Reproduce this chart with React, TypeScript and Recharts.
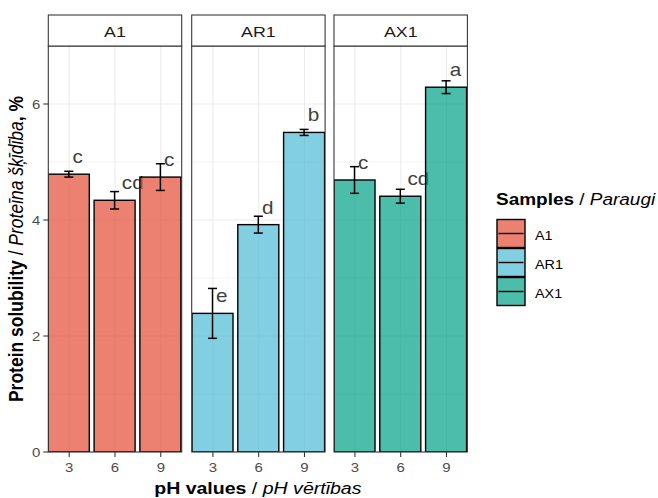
import React from 'react';
import { BarChart, Bar, XAxis, YAxis, CartesianGrid, ErrorBar } from 'recharts';

const samples = ['A1', 'AR1', 'AX1'];
const phValues = [3, 6, 9];
const yTicks = [0, 2, 4, 6];

const a1Means = [4.79, 4.34, 4.74];
const a1Errors = [0.05, 0.15, 0.23];
const a1Letters = ['c', 'cd', 'c'];

const ar1Means = [2.39, 3.92, 5.51];
const ar1Errors = [0.43, 0.145, 0.052];
const ar1Letters = ['e', 'd', 'b'];

const ax1Means = [4.69, 4.41, 6.29];
const ax1Errors = [0.23, 0.12, 0.11];
const ax1Letters = ['c', 'cd', 'a'];

const sampleColors = ['#E64B35', '#4DBBD5', '#00A087'];

const FONT = '"Liberation Sans", Arial, Helvetica, sans-serif';
const SX = 1.15; // horizontal glyph stretch seen in the reference

const seriesMeans = [a1Means, ar1Means, ax1Means];
const seriesErrors = [a1Errors, ar1Errors, ax1Errors];
const seriesLetters = [a1Letters, ar1Letters, ax1Letters];

const buildData = (i: number) =>
  phValues.map((ph, j) => ({
    ph,
    mean: seriesMeans[i][j],
    err: seriesErrors[i][j],
    letter: seriesLetters[i][j],
  }));

// layout
const PANEL_TOP = 46;
const PANEL_H = 406;
const PANEL_W = 133.4;
const Y_AXIS_W = 48.3;
const panelLefts = [48.3, 191.7, 334];
const STRIP_TOP = 15;
const STRIP_H = 31;

const SText = ({ x, y, anchor, size, fill, dy, children, weight, style }: any) => (
  <text
    transform={`translate(${x},${y}) scale(${SX},1)`}
    textAnchor={anchor || 'start'}
    fontSize={size}
    fill={fill || '#000'}
    fontFamily={FONT}
    dy={dy}
    fontWeight={weight}
    fontStyle={style}
  >
    {children}
  </text>
);

const makeShape = (color: string) => (props: any) => {
  const { x, y, width, height, payload } = props;
  const label: string = payload.letter;
  const cx = x + width / 2;
  const dx = 0.4 * label.length * 9;
  return (
    <g>
      <SText x={cx + dx} y={y - 11} size={18} fill="#404040">
        {label}
      </SText>
      <rect
        x={x}
        y={y}
        width={width}
        height={height}
        fill={color}
        fillOpacity={0.7}
        stroke="#000"
        strokeWidth={1.4}
      />
    </g>
  );
};

const XTick = (props: any) => {
  const { x, y, payload } = props;
  return (
    <SText x={x} y={y} anchor="middle" size={13} fill="#4D4D4D" dy="0.71em">
      {payload.value}
    </SText>
  );
};

const YTick = (props: any) => {
  const { x, y, payload } = props;
  return (
    <SText x={x} y={y} anchor="end" size={13} fill="#4D4D4D" dy="0.355em">
      {payload.value}
    </SText>
  );
};

const Panel = ({ index }: { index: number }) => {
  const first = index === 0;
  const width = first ? Y_AXIS_W + PANEL_W : PANEL_W;
  const left = first ? 0 : panelLefts[index];
  return (
    <div style={{ position: 'absolute', left, top: PANEL_TOP }}>
      <BarChart
        width={width}
        height={PANEL_H + 40}
        data={buildData(index)}
        margin={{ top: 0, right: 0, bottom: 0, left: 0 }}
      >
        <CartesianGrid
          horizontalValues={[1, 3, 5]}
          vertical={false}
          stroke="#EBEBEB"
          strokeWidth={0.6}
        />
        <CartesianGrid
          horizontalValues={[0, 2, 4, 6]}
          verticalValues={phValues}
          stroke="#EBEBEB"
          strokeWidth={1.1}
        />
        <XAxis
          dataKey="ph"
          type="number"
          domain={[1.63, 10.37]}
          ticks={phValues}
          interval={0}
          allowDataOverflow
          height={40}
          axisLine={false}
          tickLine={{ stroke: '#333333', strokeWidth: 1.07 }}
          tickSize={5}
          tickMargin={6}
          tick={XTick}
        />
        <YAxis
          type="number"
          domain={[0, 7]}
          ticks={yTicks}
          allowDataOverflow
          hide={!first}
          width={Y_AXIS_W}
          axisLine={false}
          tickLine={{ stroke: '#333333', strokeWidth: 1.07 }}
          tickSize={5}
          tickMargin={3}
          tick={YTick}
        />
        <Bar
          dataKey="mean"
          barSize={41}
          isAnimationActive={false}
          shape={makeShape(sampleColors[index])}
        >
          <ErrorBar dataKey="err" width={4.5} stroke="#000" strokeWidth={1.5} direction="y" />
        </Bar>
      </BarChart>
    </div>
  );
};

export default function App() {
  return (
    <div
      style={{
        position: 'fixed',
        left: 0,
        top: 0,
        width: 658,
        height: 498,
        background: '#fff',
        fontFamily: FONT,
        overflow: 'hidden',
      }}
    >
      {samples.map((s, i) => (
        <Panel key={s} index={i} />
      ))}
      <svg
        width={658}
        height={498}
        style={{ position: 'absolute', left: 0, top: 0, pointerEvents: 'none' }}
        fontFamily={FONT}
      >
        {samples.map((s, i) => (
          <g key={s}>
            <rect
              x={panelLefts[i]}
              y={PANEL_TOP}
              width={PANEL_W}
              height={PANEL_H}
              fill="none"
              stroke="#333333"
              strokeWidth={1.07}
            />
            <rect
              x={panelLefts[i]}
              y={STRIP_TOP}
              width={PANEL_W}
              height={STRIP_H}
              fill="#fff"
              stroke="#333333"
              strokeWidth={1.07}
            />
            <SText
              x={panelLefts[i] + PANEL_W / 2}
              y={STRIP_TOP + 22}
              anchor="middle"
              size={15.5}
              fill="#1A1A1A"
            >
              {s}
            </SText>
          </g>
        ))}
        {/* Y axis title */}
        <text
          transform={`translate(22.5, ${PANEL_TOP + PANEL_H / 2}) rotate(-90) scale(1, ${SX})`}
          textAnchor="middle"
          fontSize={17.5}
          fill="#000"
        >
          <tspan fontWeight="bold">Protein solubility</tspan>
          <tspan> / </tspan>
          <tspan fontStyle="italic">Proteīna šķīdība</tspan>
          <tspan fontWeight="bold">, %</tspan>
        </text>
        {/* X axis title */}
        <SText
          x={(panelLefts[0] + panelLefts[2] + PANEL_W) / 2}
          y={494}
          anchor="middle"
          size={17}
        >
          <tspan fontWeight="bold">pH values</tspan>
          <tspan> / </tspan>
          <tspan fontStyle="italic">pH vērtības</tspan>
        </SText>
        {/* Legend */}
        <SText x={496} y={204.5} size={16.5}>
          <tspan fontWeight="bold">Samples</tspan>
          <tspan> / </tspan>
          <tspan fontStyle="italic">Paraugi</tspan>
        </SText>
        {samples.map((s, i) => {
          const ky = 219.5 + i * 29;
          return (
            <g key={'lg' + s}>
              <rect x={497} y={ky} width={28} height={28} fill="#fff" />
              <rect
                x={497}
                y={ky}
                width={28}
                height={28}
                fill={sampleColors[i]}
                fillOpacity={0.7}
                stroke="#000"
                strokeWidth={1.4}
              />
              <line x1={498.5} x2={523.5} y1={ky + 14} y2={ky + 14} stroke="#000" strokeWidth={1.4} />
              <SText x={535} y={ky + 14 + 6} size={12.5}>
                {s}
              </SText>
            </g>
          );
        })}
      </svg>
    </div>
  );
}
